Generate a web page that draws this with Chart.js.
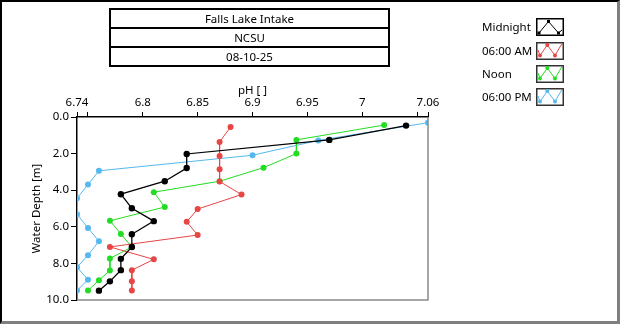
<!DOCTYPE html>
<html>
<head>
<meta charset="utf-8">
<script src="https://cdn.jsdelivr.net/npm/chart.js@4"></script>
<style>
  html, body { margin: 0; padding: 0; background: #fff; }
  body { width: 620px; height: 324px; position: relative; overflow: hidden;
         font-family: 'Noto Sans', 'Open Sans', sans-serif; font-size: 11.5px; color: #000; }
  #frame { position: absolute; left: 0; top: 0; width: 620px; height: 324px; box-sizing: border-box;
           border-left: 2px solid #000; border-top: 2px solid #000;
           border-right: 3px solid #7f7f7f; border-bottom: 3px solid #7f7f7f; pointer-events: none; }
  #wrap { position: absolute; left: 0; top: 0; width: 620px; height: 324px; }
  #info { position: absolute; left: 109px; top: 8px; width: 281px; box-sizing: border-box; border: 2px solid #000; }
  #info div { height: 17px; line-height: 17px; text-align: center; }
  #info div + div { border-top: 2px solid #000; }
  .leg { position: absolute; left: 482px; height: 18px; line-height: 18px; }
  .ico { position: absolute; left: 536px; width: 28px; height: 18px; }
</style>
</head>
<body>
<div id="wrap"><canvas id="phChart" width="620" height="324"></canvas></div>

<div id="info">
  <div>Falls Lake Intake</div>
  <div>NCSU</div>
  <div>08-10-25</div>
</div>

<div class="leg" style="top:18px">Midnight</div>
<svg class="ico" style="top:18px" viewBox="0 0 28 18">
  <rect x="0.75" y="0.75" width="26.5" height="16.5" fill="#fff" stroke="#000" stroke-width="1.5"/>
  <polyline points="3,15 12.5,3.5 22.5,15 26,12" fill="none" stroke="#000" stroke-width="1"/>
  <rect x="1.5" y="13.5" width="3" height="3" fill="#000"/>
  <rect x="11" y="2" width="3" height="3" fill="#000"/>
  <rect x="21" y="13.5" width="3" height="3" fill="#000"/>
</svg>

<div class="leg" style="top:42px">06:00 AM</div>
<svg class="ico" style="top:42px" viewBox="0 0 28 18">
  <rect x="0.75" y="0.75" width="26.5" height="16.5" fill="#fff" stroke="#333" stroke-width="1.5"/>
  <polyline points="2,8 4,13.5 11.3,3 19,13.5 25.7,2" fill="none" stroke="#e84545" stroke-width="1"/>
  <circle cx="4" cy="13.5" r="2" fill="#e84545"/>
  <circle cx="11.3" cy="3" r="2" fill="#e84545"/>
  <circle cx="19" cy="13.5" r="2" fill="#e84545"/>
</svg>

<div class="leg" style="top:65px">Noon</div>
<svg class="ico" style="top:65px" viewBox="0 0 28 18">
  <rect x="0.75" y="0.75" width="26.5" height="16.5" fill="#fff" stroke="#333" stroke-width="1.5"/>
  <polyline points="2,8 4,13.5 11.3,3 19,13.5 25.7,2" fill="none" stroke="#22dd22" stroke-width="1"/>
  <circle cx="4" cy="13.5" r="2" fill="#22dd22"/>
  <circle cx="11.3" cy="3" r="2" fill="#22dd22"/>
  <circle cx="19" cy="13.5" r="2" fill="#22dd22"/>
</svg>

<div class="leg" style="top:88px">06:00 PM</div>
<svg class="ico" style="top:88px" viewBox="0 0 28 18">
  <rect x="0.75" y="0.75" width="26.5" height="16.5" fill="#fff" stroke="#333" stroke-width="1.5"/>
  <polyline points="2,8 4,13.5 11.3,3 19,13.5 25.7,2" fill="none" stroke="#55b8ee" stroke-width="1"/>
  <circle cx="4" cy="13.5" r="2" fill="#55b8ee"/>
  <circle cx="11.3" cy="3" r="2" fill="#55b8ee"/>
  <circle cx="19" cy="13.5" r="2" fill="#55b8ee"/>
</svg>

<div id="frame"></div>

<script>
// values (pH vs depth in metres)
var midnightDepth = [0.47, 1.25, 2.02, 2.79, 3.51, 4.22, 4.99, 5.69, 6.41, 7.10, 7.75, 8.37, 8.98, 9.49];
var midnightPH    = [7.04, 6.97, 6.84, 6.84, 6.82, 6.78, 6.79, 6.81, 6.79, 6.79, 6.78, 6.78, 6.77, 6.76];

var morningDepth  = [0.55, 1.36, 2.13, 2.86, 3.52, 4.24, 5.03, 5.73, 6.45, 7.10, 7.78, 8.37, 8.98, 9.48];
var morningPH     = [6.88, 6.87, 6.87, 6.87, 6.87, 6.89, 6.85, 6.84, 6.85, 6.77, 6.81, 6.79, 6.79, 6.79];

var noonDepth     = [0.44, 1.25, 2.00, 2.77, 3.51, 4.11, 4.92, 5.67, 6.39, 7.10, 7.73, 8.39, 8.92, 9.48];
var noonPH        = [7.02, 6.94, 6.94, 6.91, 6.87, 6.81, 6.82, 6.77, 6.78, 6.79, 6.77, 6.77, 6.76, 6.75];

var eveningDepth  = [0.31, 1.28, 2.09, 2.94, 3.69, 4.44, 5.31, 6.06, 6.79, 7.55, 8.21, 8.89, 9.48];
var eveningPH     = [7.06, 6.96, 6.90, 6.76, 6.75, 6.74, 6.74, 6.75, 6.76, 6.75, 6.74, 6.75, 6.74];

var seriesNames = ['Midnight', '06:00 AM', 'Noon', '06:00 PM'];

// x ticks: end values plus every 0.05; 6.75 / 7.05 get a tick but no label
var phTicks  = [6.74, 6.75, 6.8, 6.85, 6.9, 6.95, 7, 7.05, 7.06];
var phLabels = ['6.74', '', '6.8', '6.85', '6.9', '6.95', '7', '', '7.06'];
var depthTicks = [0, 2, 4, 6, 8, 10];

function pts(ph, depth) {
    return ph.map(function (v, i) { return { x: v, y: depth[i] }; });
}

function line(name, ph, depth, color, width, radius) {
    return {
        label: name,
        data: pts(ph, depth),
        showLine: true,
        borderColor: color,
        backgroundColor: color,
        borderWidth: width,
        pointRadius: radius,
        pointHoverRadius: radius,
        pointBorderWidth: 0,
        clip: 0
    };
}

// right and bottom edges of the plot are grey in the original
var plotEdges = {
    id: 'plotEdges',
    afterDraw: function (chart) {
        var a = chart.chartArea, ctx = chart.ctx;
        ctx.save();
        ctx.strokeStyle = '#8a8a8a';
        ctx.lineWidth = 1.5;
        ctx.beginPath();
        ctx.moveTo(a.right, a.top);
        ctx.lineTo(a.right, a.bottom);
        ctx.lineTo(a.left, a.bottom);
        ctx.stroke();
        ctx.restore();
    }
};

Chart.defaults.font.family = "'Noto Sans', 'Open Sans', sans-serif";
Chart.defaults.font.size = 11.5;
Chart.defaults.color = '#000';

var ctx = document.getElementById('phChart').getContext('2d');
var phChart = new Chart(ctx, {
    type: 'scatter',
    data: {
        datasets: [
            line(seriesNames[0], midnightPH, midnightDepth, '#000000', 1.3, 3.2),
            line(seriesNames[1], morningPH, morningDepth, '#e84545', 1, 3),
            line(seriesNames[2], noonPH, noonDepth, '#22dd22', 1, 3),
            line(seriesNames[3], eveningPH, eveningDepth, '#55b8ee', 1, 3)
        ]
    },
    options: {
        responsive: false,
        animation: false,
        events: [],
        layout: { padding: { left: 30, top: 80, right: 192, bottom: 24 } },
        plugins: { legend: { display: false }, tooltip: { enabled: false } },
        scales: {
            x: {
                type: 'linear',
                position: 'top',
                min: 6.74,
                max: 7.06,
                afterBuildTicks: function (scale) {
                    scale.ticks = phTicks.map(function (v) { return { value: v }; });
                },
                afterFit: function (scale) { scale.height = 37; },
                ticks: {
                    autoSkip: false,
                    maxRotation: 0,
                    padding: 2,
                    callback: function (v, i) { return phLabels[i]; }
                },
                grid: { drawOnChartArea: false, drawTicks: true, tickLength: 5, color: '#000' },
                border: { display: true, color: '#000', width: 1.5 },
                title: { display: true, text: 'pH [ ]', padding: { top: 4, bottom: 0 } }
            },
            y: {
                type: 'linear',
                reverse: true,
                min: 0,
                max: 10,
                afterBuildTicks: function (scale) {
                    scale.ticks = depthTicks.map(function (v) { return { value: v }; });
                },
                afterFit: function (scale) { scale.width = 47; },
                ticks: {
                    padding: 2,
                    callback: function (v) { return Number(v).toFixed(1); }
                },
                grid: { drawOnChartArea: false, drawTicks: true, tickLength: 6, color: '#000' },
                border: { display: true, color: '#000', width: 1.5 },
                title: { display: true, text: 'Water Depth [m]', padding: { top: 0, bottom: 0 } }
            }
        }
    },
    plugins: [plotEdges]
});
</script>
</body>
</html>
